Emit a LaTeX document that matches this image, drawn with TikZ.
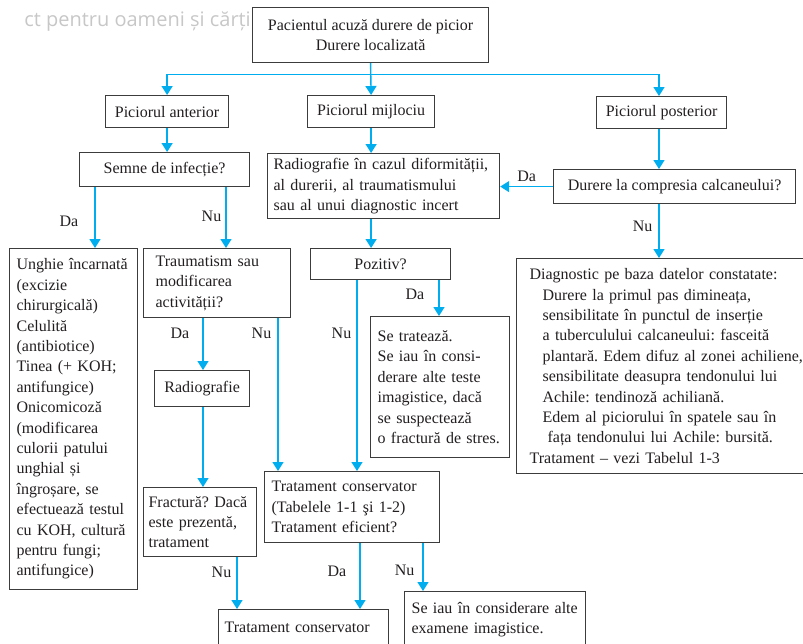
\documentclass[tikz,border=0pt]{standalone}
\usepackage{fontspec}
\setmainfont{Liberation Serif}
\newfontfamily\wmfont{Open Sans}
\usepackage{xcolor}
\usetikzlibrary{arrows.meta, positioning}
\frenchspacing

\definecolor{flowblue}{RGB}{0,174,239}
\definecolor{inkgray}{RGB}{35,31,32}
\definecolor{edgegray}{RGB}{60,60,60}

\begin{document}
\begin{tikzpicture}[x=1pt, y=-1pt, font=\fontsize{16}{20.4}\selectfont, text=inkgray]
    % Styles
    \tikzstyle{box} = [rectangle, draw=edgegray, line width=1.2pt, fill=white, anchor=north west, inner xsep=6pt, inner ysep=0pt]
    \tikzstyle{arrow} = [draw=flowblue, line width=1.4pt, -{Triangle[width=11pt,length=9pt]}]
    \tikzstyle{lbl} = [inner sep=0pt]

    \useasboundingbox (0,0) rectangle (803,643);
    \clip (0,0) rectangle (803,643);

    % Watermark
    \node (watermark) [anchor=base east, inner sep=0pt, text=black!22, font=\wmfont\fontsize{20}{24}\selectfont] at (251,26.5) {ct pentru oameni și cărți};

    % Nodes
    \node (complaint) [box, minimum width=236pt, minimum height=55pt, align=center] at (252,7) {Pacientul acuză durere de picior\\Durere localizată};
    \node (forefoot) [box, minimum width=123pt, minimum height=32pt] at (105,95) {Piciorul anterior};
    \node (midfoot) [box, minimum width=127pt, minimum height=32pt] at (307,95) {Piciorul mijlociu};
    \node (hindfoot) [box, minimum width=130pt, minimum height=32pt] at (596,96) {Piciorul posterior};
    \node (infection) [box, minimum width=170pt, minimum height=34pt] at (79,152) {Semne de infecție?};
    \node (xray) [box, text width=220pt, minimum height=65pt, align=left] at (267,153) {Radiografie în cazul diformității,\\al durerii, al traumatismului\\sau al unui diagnostic incert};
    \node (heel) [box, minimum width=242pt, minimum height=34pt] at (553,169) {Durere la compresia calcaneului?};
    \node (nails) [box, text width=114pt, inner xsep=7pt, minimum height=341pt, align=left] at (9,248) {Unghie încarnată\\(excizie\\chirurgicală)\\Celulită\\(antibiotice)\\Tinea (+ KOH;\\antifungice)\\Onicomicoză\\(modificarea\\culorii patului\\unghial și\\îngroșare, se\\efectuează testul\\cu KOH, cultură\\pentru fungi;\\antifungice)};
    \node (trauma) [box, text width=123pt, inner xsep=12pt, minimum height=69pt, align=left] at (143,248) {Traumatism sau\\modificarea\\activității?};
    \node (positive) [box, minimum width=140pt, minimum height=31pt] at (310,248) {Pozitiv?};
    \node (treatnote) [box, text width=125pt, inner xsep=7pt, minimum height=141pt, align=left] at (370,316) {Se tratează.\\Se iau în consi-\\derare alte teste\\imagistice, dacă\\se suspectează\\o fractură de stres.};
    \node (diagnosis) [box, text width=274pt, inner xsep=13pt, minimum height=215pt, align=left] at (516,258) {Diagnostic pe baza datelor constatate:\\
        \hspace*{13pt}Durere la primul pas dimineața,\\
        \hspace*{13pt}sensibilitate în punctul de inserție\\
        \hspace*{13pt}a tuberculului calcaneului: fasceită\\
        \hspace*{13pt}plantară. Edem difuz al zonei achiliene,\\
        \hspace*{13pt}sensibilitate deasupra tendonului lui\\
        \hspace*{13pt}Achile: tendinoză achiliană.\\
        \hspace*{13pt}Edem al piciorului în spatele sau în\\
        \hspace*{18pt}fața tendonului lui Achile: bursită.\\
        Tratament – vezi Tabelul 1-3};
    \node (radio) [box, minimum width=95pt, minimum height=36pt] at (154,370) {Radiografie};
    \node (fracture) [box, text width=103pt, inner xsep=5pt, minimum height=69pt, align=left] at (143,487) {Fractură? Dacă\\este prezentă,\\tratament};
    \node (conservative) [box, text width=161pt, inner xsep=7pt, minimum height=71pt, align=left] at (264,471) {Tratament conservator\\(Tabelele 1-1 şi 1-2)\\Tratament eficient?};
    \node (finalcons) [box, text width=158pt, inner xsep=6pt, minimum height=36pt, align=left] at (218,609) {Tratament conservator};
    \node (imaging) [box, text width=167pt, inner xsep=7pt, minimum height=56pt, align=left] at (404,591) {Se iau în considerare alte\\examene imagistice.};

    % Columns of the vertical arrows
    \foreach \name/\x in {hindcol/659, nailcol/95, traumacol/226, radiocol/203, nucol/278, fraccol/237, poznu/357, pozda/439, effda/360, effnu/423}
        \coordinate (\name) at (\x,0);

    % Arrows
    \draw [arrow] (complaint.south) -- ++(0,11) -| (forefoot.north);
    \draw [arrow] (complaint.south) -- (midfoot.north);
    \draw [arrow] (complaint.south) -- ++(0,11) -| (hindcol |- hindfoot.north);
    \draw [arrow] (hindcol |- hindfoot.south) -- (hindcol |- heel.north);
    \draw [arrow] (heel.west) -- node[lbl, above=4pt] {Da} (xray.east |- heel.west);
    \draw [arrow] (hindcol |- heel.south) -- node[lbl, left=6pt, pos=0.42] {Nu} (hindcol |- diagnosis.north);
    \draw [arrow] (forefoot.south) -- (forefoot.south |- infection.north);
    \draw [arrow] (midfoot.south) -- (midfoot.south |- xray.north);
    \draw [arrow] (nailcol |- infection.south) -- node[lbl, left=16pt, pos=0.56] {Da} (nailcol |- nails.north);
    \draw [arrow] (traumacol |- infection.south) -- node[lbl, left=4pt, pos=0.48] {Nu} (traumacol |- trauma.north);
    \draw [arrow] (radiocol |- trauma.south) -- node[lbl, left=13pt, pos=0.3] {Da} (radiocol |- radio.north);
    \draw [arrow] (nucol |- trauma.south) -- node[lbl, left=6pt, pos=0.1] {Nu} (nucol |- conservative.north);
    \draw [arrow] (radiocol |- radio.south) -- (radiocol |- fracture.north);
    \draw [arrow] (fraccol |- fracture.south) -- node[lbl, left=5pt, pos=0.3] {Nu} (fraccol |- finalcons.north);
    \draw [arrow] (midfoot.south |- xray.south) -- (midfoot.south |- positive.north);
    \draw [arrow] (poznu |- positive.south) -- node[lbl, left=5pt, pos=0.28] {Nu} (poznu |- conservative.north);
    \draw [arrow] (pozda |- positive.south) -- node[lbl, left=14pt, pos=0.4] {Da} (pozda |- treatnote.north);
    \draw [arrow] (effda |- conservative.south) -- node[lbl, left=13pt, pos=0.42] {Da} (effda |- finalcons.north);
    \draw [arrow] (effnu |- conservative.south) -- node[lbl, left=8pt, pos=0.57] {Nu} (effnu |- imaging.north);
\end{tikzpicture}
\end{document}
